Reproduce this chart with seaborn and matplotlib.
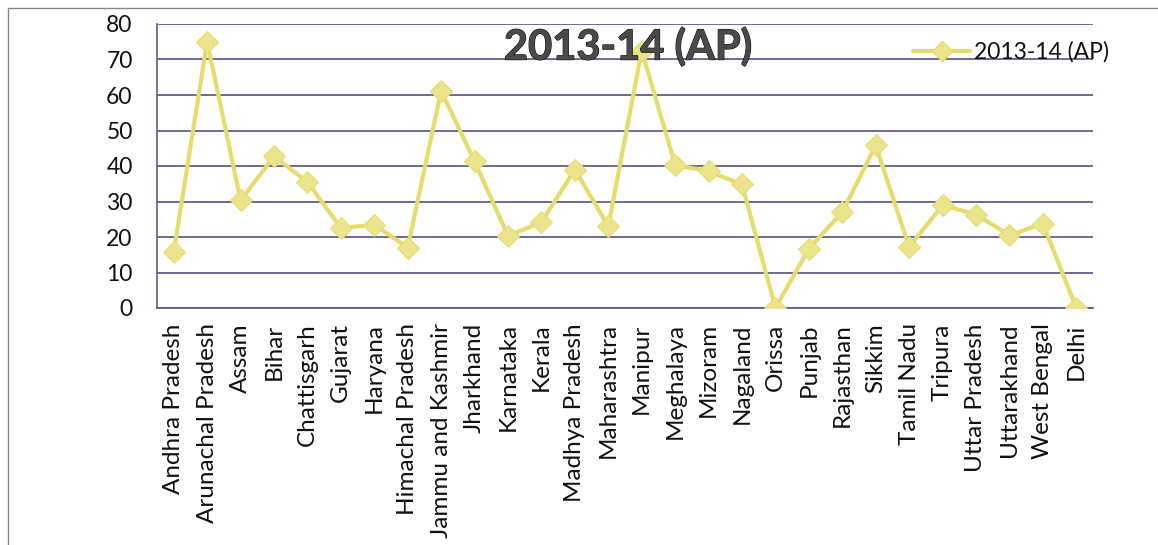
import matplotlib
matplotlib.use("Agg")
import matplotlib.pyplot as plt
import matplotlib.patheffects as pe
import seaborn as sns
import pandas as pd
from matplotlib.lines import Line2D

states = ["Andhra Pradesh", "Arunachal Pradesh", "Assam", "Bihar", "Chattisgarh",
          "Gujarat", "Haryana", "Himachal Pradesh", "Jammu and Kashmir", "Jharkhand",
          "Karnataka", "Kerala", "Madhya Pradesh", "Maharashtra", "Manipur",
          "Meghalaya", "Mizoram", "Nagaland", "Orissa", "Punjab", "Rajasthan",
          "Sikkim", "Tamil Nadu", "Tripura", "Uttar Pradesh", "Uttarakhand",
          "West Bengal", "Delhi"]
values_2013_14 = [15.7, 75.0, 30.3, 42.7, 35.5, 22.5, 23.5, 17.0, 61.2, 41.3,
                  20.3, 24.2, 39.0, 23.0, 72.5, 40.3, 38.5, 34.8, 0.0, 16.7,
                  27.0, 45.8, 17.2, 29.0, 26.3, 20.5, 23.8, 0.0]
series_name = "2013-14 (AP)"
y_ticks = [0, 10, 20, 30, 40, 50, 60, 70, 80]

sns.set_theme(style="white")
plt.rcParams["font.family"] = ["Lato", "DejaVu Sans"]

df = pd.DataFrame({"state": states, "value": values_2013_14})
df["x"] = range(len(df))

fig = plt.figure(figsize=(11.58, 5.45), dpi=100)
ax = fig.add_axes([157/1158, 1 - 308/545, (1093 - 157)/1158, (308 - 24)/545])

line_color = "#E5DC6E"
marker_face = "#ECE48C"
grid_color = "#5F5F8C"

sns.lineplot(data=df, x="x", y="value", ax=ax, color=line_color, linewidth=3.0,
             marker="D", markersize=11, markerfacecolor=marker_face,
             markeredgecolor=line_color, sort=False, legend=False, zorder=3)

ax.set_xlim(-0.5, len(states) - 0.5)
ax.set_ylim(0, 80)
ax.set_yticks(y_ticks)
ax.set_yticklabels([str(t) for t in y_ticks], fontsize=16.5, color="#111111")
ax.set_xticks(range(len(states)))
ax.set_xticklabels(states, rotation=90, fontsize=17.5, color="#111111")
ax.set_xticks([i - 0.5 for i in range(len(states) + 1)], minor=True)
ax.tick_params(axis="x", which="major", length=0, pad=11)
ax.tick_params(axis="x", which="minor", length=6, color=grid_color, width=1, direction="out")
ax.tick_params(axis="y", length=6.5, color=grid_color, width=1, pad=11, direction="out")
ax.set_xlabel("")
ax.set_ylabel("")

ax.grid(axis="y", color=grid_color, linewidth=1.3)
ax.grid(axis="x", visible=False)
for s in ["top", "right"]:
    ax.spines[s].set_visible(False)
ax.spines["left"].set_color(grid_color)
ax.spines["bottom"].set_color(grid_color)
ax.spines["left"].set_linewidth(1.2)
ax.spines["bottom"].set_linewidth(1.3)

ax.text(0.503, 0.92, series_name, transform=ax.transAxes, ha="center", va="center",
        fontsize=30, fontweight="bold", color="#4a4a4a", zorder=5,
        path_effects=[pe.withStroke(linewidth=0.8, foreground="#111111")])

handle = Line2D([], [], color=line_color, linewidth=3.0, marker="D", markersize=10,
                markerfacecolor=marker_face, markeredgecolor=line_color)
leg = ax.legend([handle], [series_name], loc="center left", frameon=False,
                fontsize=16.5, bbox_to_anchor=((913 - 157) / 936, (308 - 52) / 284),
                handlelength=2.5, handletextpad=0.15, borderpad=0, borderaxespad=0)
for t in leg.get_texts():
    t.set_color("#111111")

# outer chart border
fig.add_artist(Line2D([8/1158, 1.0], [1 - 8/545, 1 - 8/545], transform=fig.transFigure,
                      color="#888888", linewidth=1))
fig.add_artist(Line2D([8/1158, 8/1158], [0.0, 1 - 8/545], transform=fig.transFigure,
                      color="#888888", linewidth=1))

fig.savefig("out.png", dpi=100)
